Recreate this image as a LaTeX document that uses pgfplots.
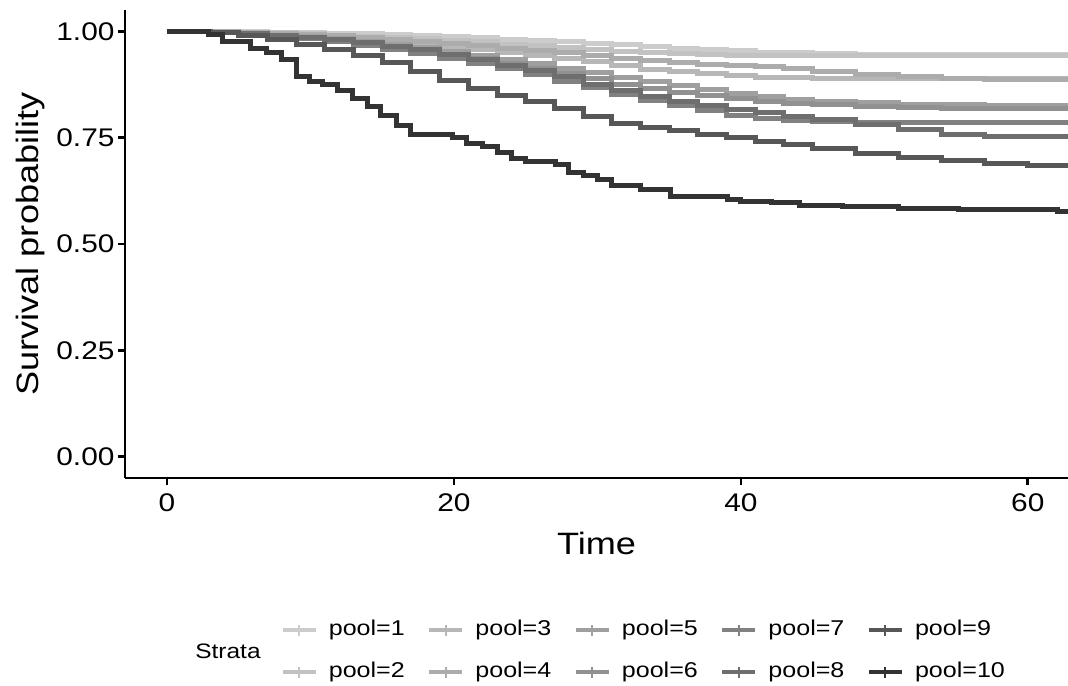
\documentclass[border=0pt]{standalone}
\usepackage{fontspec}
\setmainfont{Liberation Sans}[FakeStretch=1.17]
\usepackage{pgfplots}
\pgfplotsset{compat=1.18}
\definecolor{p1}{gray}{0.800}
\definecolor{p2}{gray}{0.760}
\definecolor{p3}{gray}{0.718}
\definecolor{p4}{gray}{0.673}
\definecolor{p5}{gray}{0.623}
\definecolor{p6}{gray}{0.568}
\definecolor{p7}{gray}{0.506}
\definecolor{p8}{gray}{0.433}
\definecolor{p9}{gray}{0.341}
\definecolor{p10}{gray}{0.200}
\pgfplotsset{survline/.style={const plot, line width=5bp, forget plot}}
\begin{document}
\begin{tikzpicture}[x=1bp,y=1bp]
\useasboundingbox (-125,-208) rectangle (943,478);
\begin{axis}[
  at={(0,0)}, anchor=south west,
  scale only axis, width=943bp, height=468bp,
  xmin=-2.93, xmax=62.8, ymin=-0.05, ymax=1.05,
  axis x line*=bottom, axis y line*=left,
  axis line style={line width=2.8bp, black, -},
  xtick={0,20,40,60}, xticklabels={0,20,40,60},
  ytick={0,0.25,0.5,0.75,1}, yticklabels={0.00,0.25,0.50,0.75,1.00},
  tick style={line width=2.8bp, black},
  tick align=outside, major tick length=7bp,
  ticklabel style={font=\fontsize{25.6}{30}\selectfont},
  xticklabel style={yshift=-5bp},
  /pgf/number format/assume math mode=true,
  xlabel={Time}, ylabel={Survival probability},
  xlabel style={at={(axis description cs:0.5,-0.1389)}, anchor=center, font=\fontsize{31}{36}\selectfont},
  ylabel style={at={(axis description cs:-0.1007,0.5)}, anchor=center, font=\fontsize{31}{36}\selectfont},
  legend columns=5,
  legend cell align=left,
  legend image code/.code={
    \draw[#1, line width=4.6bp] (0bp,0bp) -- (33bp,0bp);
    \draw[#1, line width=2bp] (16.5bp,-5.5bp) -- (16.5bp,5.5bp);
  },
  legend style={at={(axis description cs:0.1644,-0.3697)}, anchor=west,
    draw=none, fill=none, inner sep=0pt,
    font=\fontsize{21.5}{26}\selectfont,
    nodes={inner sep=0pt, text height=16bp, text depth=5bp},
    row sep=21bp,
    /tikz/every odd column/.append style={column sep=11bp},
    /tikz/every even column/.append style={column sep=22bp}},
]
% pool=1
\addplot[survline, color=p1] coordinates {
(0,1.000) (4,0.999) (7,0.998) (9,0.997) (11,0.995) (13,0.994) (15,0.992) (17,0.990) (19,0.987) (21,0.985) (23,0.981) (25,0.978) (27,0.975) (29,0.972) (31,0.968) (33,0.964) (35,0.960) (37,0.957) (39,0.954) (41,0.951) (43,0.949) (45,0.947) (48,0.946) (63,0.946)};
% pool=2
\addplot[survline, color=p2] coordinates {
(0,1.000) (3,0.999) (5,0.998) (7,0.996) (9,0.994) (11,0.991) (13,0.988) (15,0.985) (17,0.982) (19,0.979) (21,0.975) (23,0.970) (25,0.966) (27,0.962) (29,0.957) (31,0.953) (33,0.950) (35,0.948) (37,0.946) (39,0.944) (43,0.943) (63,0.943)};
% pool=3
\addplot[survline, color=p3] coordinates {
(0,1.000) (3,0.999) (5,0.997) (7,0.994) (9,0.991) (11,0.987) (13,0.982) (15,0.977) (17,0.971) (19,0.965) (21,0.958) (23,0.951) (25,0.944) (27,0.937) (29,0.929) (31,0.919) (33,0.911) (35,0.905) (37,0.900) (39,0.896) (41,0.892) (45,0.890) (51,0.888) (63,0.888)};
% pool=4
\addplot[survline, color=p4] coordinates {
(0,1.000) (3,0.999) (5,0.997) (7,0.995) (9,0.992) (11,0.989) (13,0.985) (15,0.981) (17,0.976) (19,0.971) (21,0.966) (23,0.960) (25,0.955) (27,0.949) (29,0.943) (31,0.936) (33,0.931) (35,0.927) (37,0.923) (39,0.920) (41,0.917) (43,0.912) (45,0.906) (48,0.899) (51,0.893) (54,0.888) (57,0.886) (63,0.884)};
% pool=5
\addplot[survline, color=p5] coordinates {
(0,1.000) (3,0.998) (5,0.995) (7,0.991) (9,0.987) (11,0.982) (13,0.976) (15,0.969) (17,0.961) (19,0.953) (21,0.944) (23,0.934) (25,0.924) (27,0.913) (29,0.902) (31,0.892) (33,0.882) (35,0.872) (37,0.862) (39,0.853) (41,0.846) (43,0.840) (45,0.836) (48,0.832) (51,0.829) (54,0.827) (57,0.826) (63,0.826)};
% pool=6
\addplot[survline, color=p6] coordinates {
(0,1.000) (3,0.998) (5,0.994) (7,0.989) (9,0.984) (11,0.978) (13,0.971) (15,0.963) (17,0.954) (19,0.945) (21,0.935) (23,0.924) (25,0.912) (27,0.900) (29,0.888) (31,0.876) (33,0.866) (35,0.857) (37,0.849) (39,0.842) (41,0.836) (43,0.831) (45,0.827) (48,0.823) (51,0.820) (54,0.818) (63,0.817)};
% pool=7
\addplot[survline, color=p7] coordinates {
(0,1.000) (3,0.997) (5,0.993) (7,0.988) (9,0.982) (11,0.975) (13,0.967) (15,0.958) (17,0.948) (19,0.937) (21,0.925) (23,0.912) (25,0.898) (27,0.883) (29,0.868) (31,0.852) (33,0.838) (35,0.825) (37,0.813) (39,0.803) (41,0.795) (43,0.790) (45,0.787) (48,0.786) (51,0.785) (63,0.785)};
% pool=8
\addplot[survline, color=p8] coordinates {
(0,1.000) (3,0.998) (5,0.995) (7,0.991) (9,0.986) (11,0.980) (13,0.973) (15,0.965) (17,0.956) (19,0.945) (21,0.933) (23,0.920) (25,0.907) (27,0.893) (29,0.876) (31,0.860) (33,0.847) (35,0.836) (37,0.826) (39,0.817) (41,0.809) (43,0.800) (45,0.792) (48,0.781) (51,0.770) (54,0.758) (57,0.752) (63,0.750)};
% pool=9
\addplot[survline, color=p9] coordinates {
(0,1.000) (3,0.996) (5,0.989) (7,0.980) (9,0.969) (11,0.956) (13,0.942) (15,0.926) (17,0.905) (19,0.884) (21,0.866) (23,0.850) (25,0.834) (27,0.818) (29,0.800) (31,0.784) (33,0.774) (35,0.766) (37,0.758) (39,0.750) (41,0.742) (43,0.733) (45,0.724) (48,0.713) (51,0.704) (54,0.697) (57,0.690) (60,0.684) (63,0.680)};
% pool=10
\addplot[survline, color=p10] coordinates {
(0,1.000) (2.9,0.993) (3.9,0.975) (5.85,0.959) (6.9,0.951) (7.95,0.934) (9.0,0.893) (9.9,0.883) (10.85,0.875) (11.9,0.860) (12.9,0.842) (14.0,0.824) (14.9,0.801) (16.0,0.779) (17.0,0.758) (19.9,0.750) (20.9,0.736) (22.0,0.730) (23.0,0.715) (24.0,0.700) (25.0,0.695) (27.1,0.687) (28.0,0.667) (29.0,0.660) (30.0,0.652) (31.0,0.638) (33.0,0.627) (35.1,0.611) (39.1,0.605) (40.0,0.601) (42.1,0.597) (44.1,0.591) (47.1,0.588) (51.0,0.583) (55.2,0.580) (62.1,0.576) (63.0,0.576)};
\addlegendimage{color=p1}\addlegendentry{pool=1}
\addlegendimage{color=p3}\addlegendentry{pool=3}
\addlegendimage{color=p5}\addlegendentry{pool=5}
\addlegendimage{color=p7}\addlegendentry{pool=7}
\addlegendimage{color=p9}\addlegendentry{pool=9}
\addlegendimage{color=p2}\addlegendentry{pool=2}
\addlegendimage{color=p4}\addlegendentry{pool=4}
\addlegendimage{color=p6}\addlegendentry{pool=6}
\addlegendimage{color=p8}\addlegendentry{pool=8}
\addlegendimage{color=p10}\addlegendentry{pool=10}
\end{axis}
\node[anchor=center, font=\fontsize{21}{25}\selectfont] at (103,-173) {Strata};
\end{tikzpicture}
\end{document}
